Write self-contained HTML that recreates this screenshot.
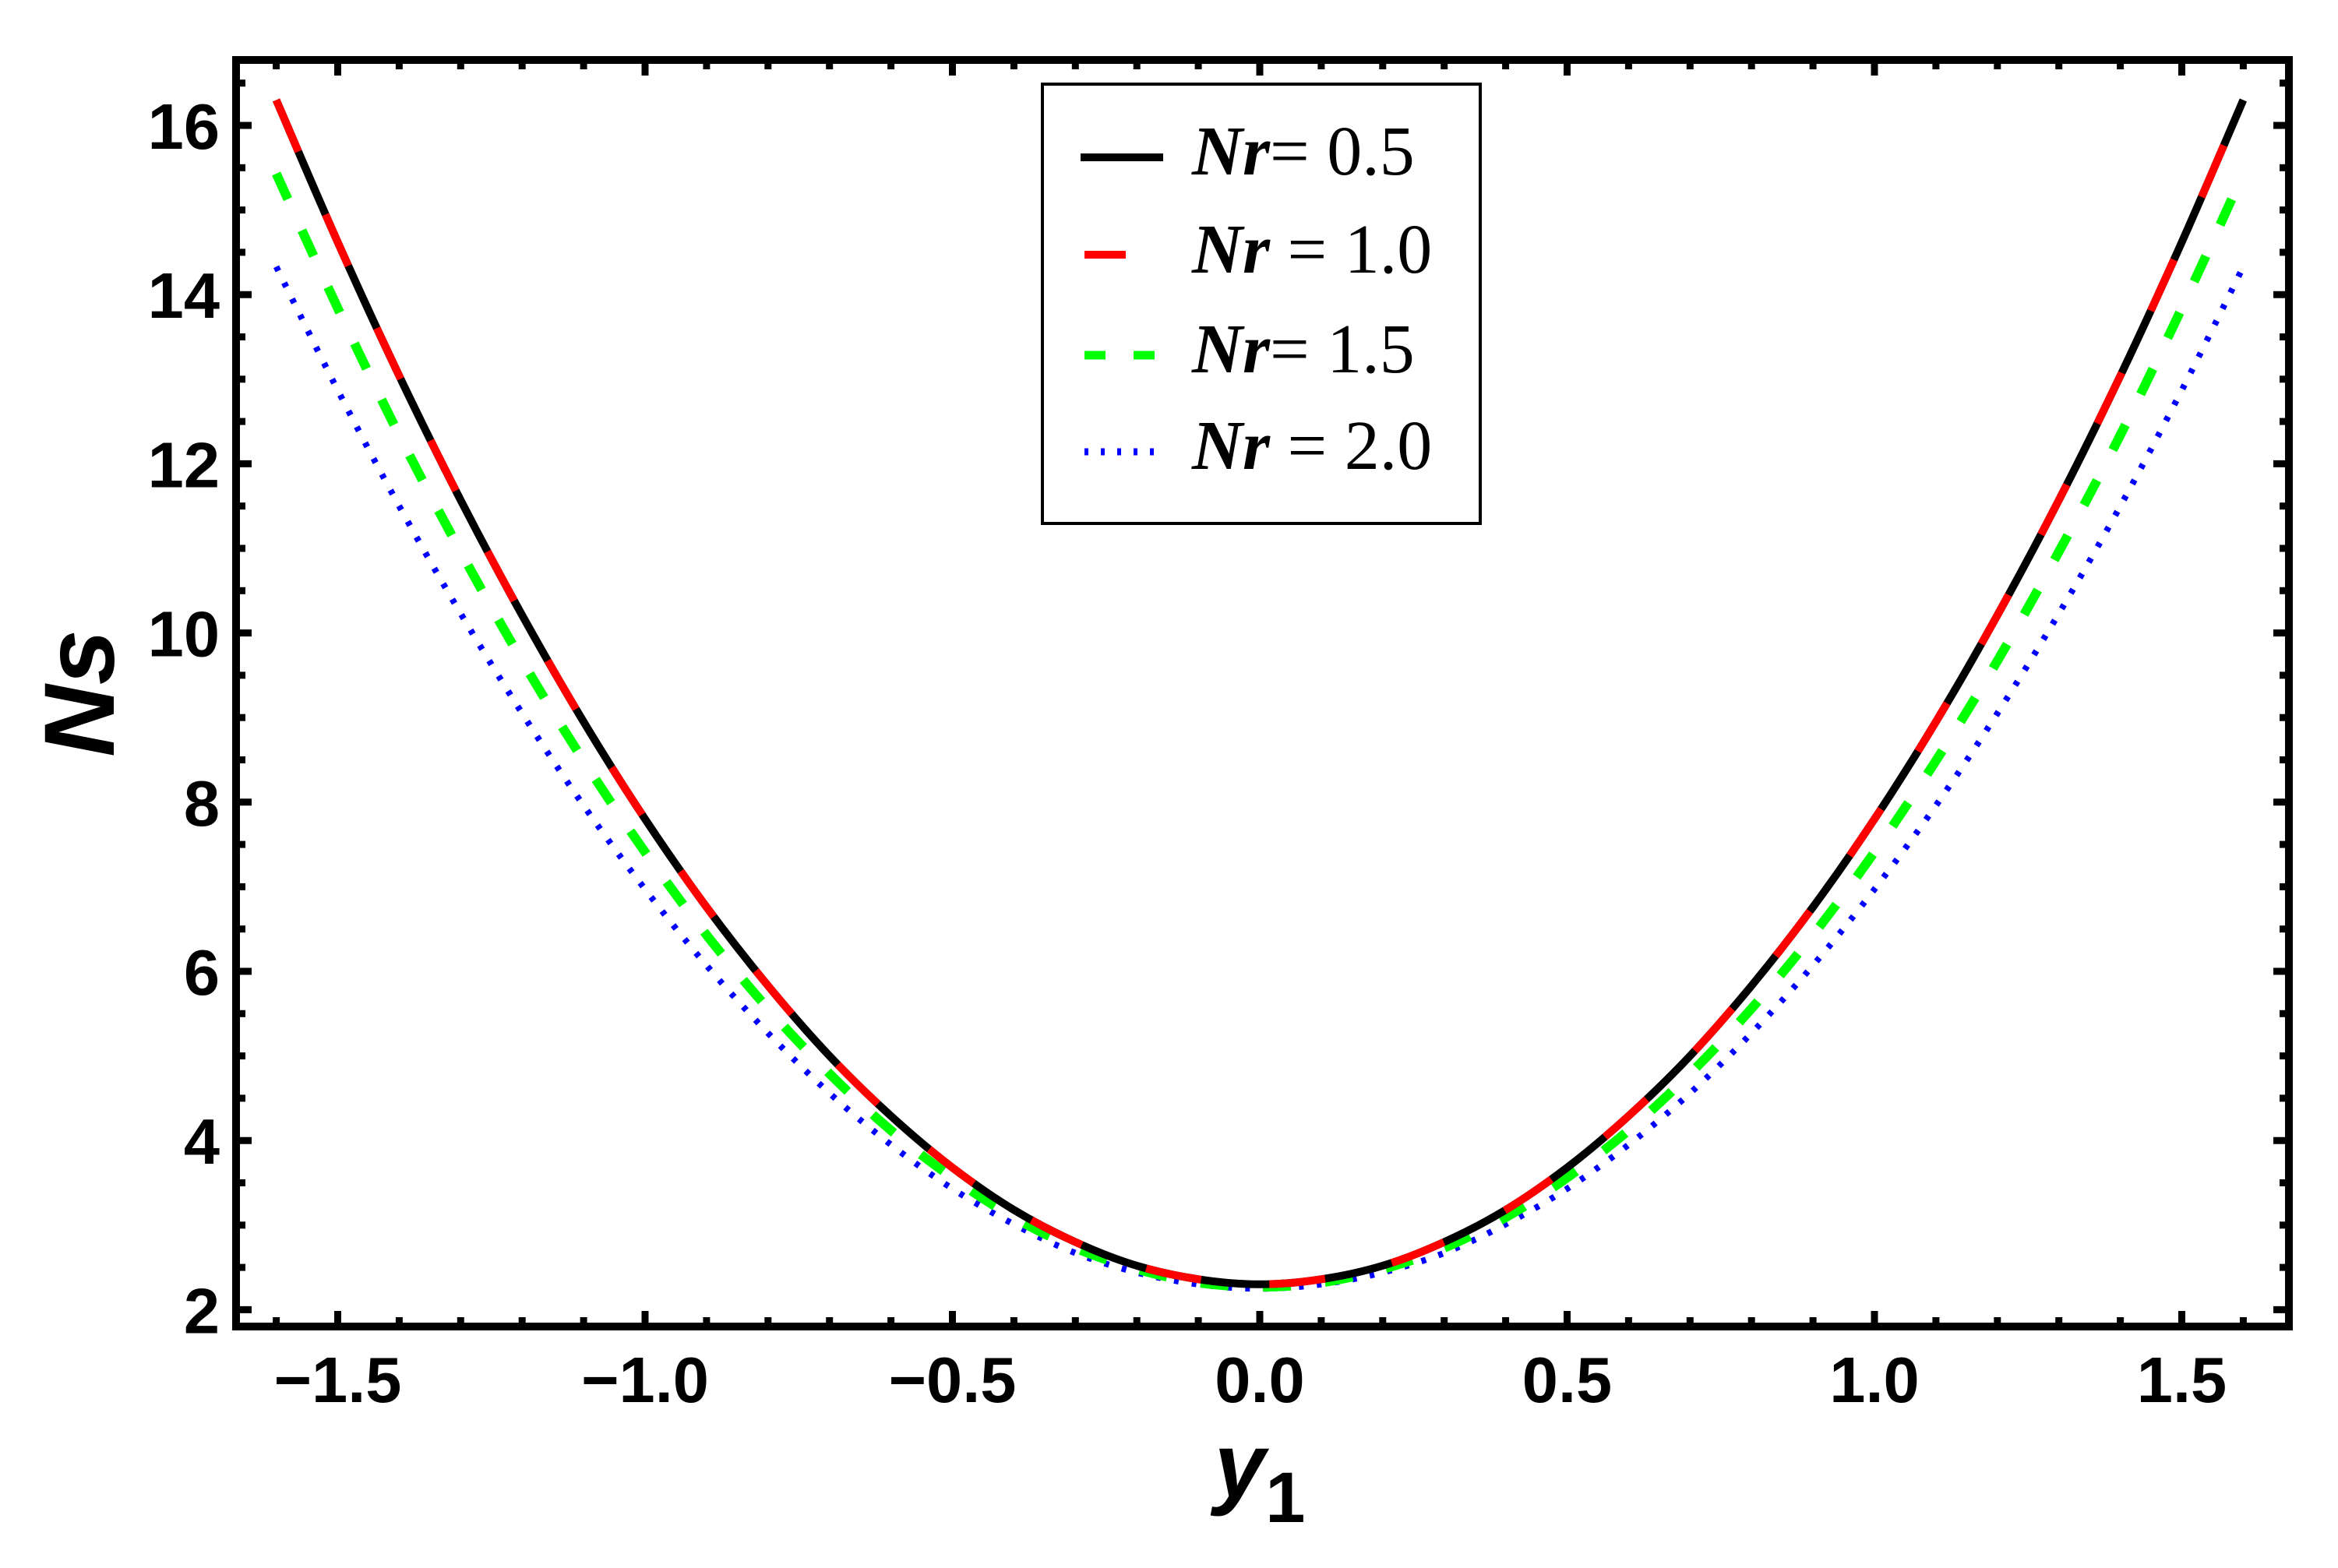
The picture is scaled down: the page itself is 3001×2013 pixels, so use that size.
<!DOCTYPE html>
<html><head><meta charset="utf-8"><style>
html,body{margin:0;padding:0;background:#fff;}
svg{display:block;}
</style></head><body>
<svg id="chart" width="3001" height="2013" viewBox="0 0 3001 2013" xmlns="http://www.w3.org/2000/svg">
<rect x="0" y="0" width="3001" height="2013" fill="#fff"/>
<g id="curves"></g>
<g id="axes"></g>
<text transform="translate(146,890) rotate(-90)" text-anchor="middle" font-family="Liberation Sans, sans-serif" font-weight="bold" font-style="italic" font-size="128">Ns</text>
<text x="1617" y="1922" text-anchor="middle" font-family="Liberation Sans, sans-serif" font-weight="bold" font-size="118"><tspan font-style="italic">y</tspan><tspan font-size="92" dy="32">1</tspan></text>
<g>
<rect x="1338" y="108" width="562" height="564" fill="#fff" stroke="#000" stroke-width="4"/>
<g>
<line x1="1387" y1="202" x2="1493" y2="202" stroke="#000" stroke-width="10"/>
<text x="1530" y="224" font-family="Liberation Serif, serif" font-size="90"><tspan font-style="italic" font-weight="bold">Nr</tspan>= 0.5</text></g>
<g>
<line x1="1392" y1="327" x2="1445" y2="327" stroke="#f00" stroke-width="10"/>
<text x="1530" y="350" font-family="Liberation Serif, serif" font-size="90"><tspan font-style="italic" font-weight="bold">Nr</tspan> = 1.0</text></g>
<g>
<line x1="1392" y1="456" x2="1482" y2="456" stroke="#0f0" stroke-width="11" stroke-dasharray="27 36"/>
<text x="1530" y="478" font-family="Liberation Serif, serif" font-size="90"><tspan font-style="italic" font-weight="bold">Nr</tspan>= 1.5</text></g>
<g>
<line x1="1392" y1="580" x2="1482" y2="580" stroke="#00f" stroke-width="9" stroke-dasharray="5 16"/>
<text x="1530" y="602" font-family="Liberation Serif, serif" font-size="90"><tspan font-style="italic" font-weight="bold">Nr</tspan> = 2.0</text></g>
</g>
</svg>
<script>
const xValues = [-1.6,-1.5,-1.4,-1.3,-1.2,-1.1,-1.0,-0.9,-0.8,-0.7,-0.6,-0.5,-0.4,-0.3,-0.2,-0.1,0,0.1,0.2,0.3,0.4,0.5,0.6,0.7,0.8,0.9,1.0,1.1,1.2,1.3,1.4,1.5,1.6];
const nr05 = [16.30,14.62,13.04,11.57,10.21,8.95,7.80,6.76,5.83,5.00,4.29,3.68,3.18,2.80,2.52,2.36,2.30,2.36,2.52,2.80,3.18,3.68,4.29,5.00,5.83,6.76,7.80,8.95,10.21,11.57,13.04,14.62,16.30];
const nr10 = [16.30,14.62,13.04,11.57,10.21,8.95,7.80,6.76,5.83,5.00,4.29,3.68,3.18,2.80,2.52,2.36,2.30,2.36,2.52,2.80,3.18,3.68,4.29,5.00,5.83,6.76,7.80,8.95,10.21,11.57,13.04,14.62,16.30];
const nr15 = [15.43,13.84,12.34,10.96,9.67,8.49,7.41,6.43,5.56,4.79,4.12,3.56,3.09,2.73,2.48,2.32,2.27,2.32,2.48,2.73,3.09,3.56,4.12,4.79,5.56,6.43,7.41,8.49,9.67,10.96,12.34,13.84,15.43];
const nr20 = [14.33,12.87,11.50,10.23,9.05,7.96,6.97,6.07,5.27,4.56,3.95,3.43,3.01,2.67,2.44,2.30,2.25,2.30,2.44,2.67,3.01,3.43,3.95,4.56,5.27,6.07,6.97,7.96,9.05,10.23,11.50,12.87,14.33];
const xTicks = [-1.5,-1.0,-0.5,0.0,0.5,1.0,1.5];
const xTickLabels = ["\u22121.5","\u22121.0","\u22120.5","0.0","0.5","1.0","1.5"];
const yTicks = [2,4,6,8,10,12,14,16];
const yTickLabels = ["2","4","6","8","10","12","14","16"];

const NS='http://www.w3.org/2000/svg';
const L=303,R=2938,T=77,B=1703;
function sx(v){return 1617+v*789;}
function sy(v){return 161+(16-v)*108.6;}
function mk(tag,attrs,parent){const e=document.createElementNS(NS,tag);for(const k in attrs)e.setAttribute(k,attrs[k]);parent.appendChild(e);return e;}
function pathFor(ys){
  const p=xValues.map((x,i)=>[sx(x),sy(ys[i])]);
  let d='M'+p[0][0].toFixed(1)+','+p[0][1].toFixed(1);
  for(let i=0;i<p.length-1;i++){
    const p0=p[Math.max(0,i-1)],p1=p[i],p2=p[i+1],p3=p[Math.min(p.length-1,i+2)];
    const c1=[p1[0]+(p2[0]-p0[0])/6,p1[1]+(p2[1]-p0[1])/6];
    const c2=[p2[0]-(p3[0]-p1[0])/6,p2[1]-(p3[1]-p1[1])/6];
    d+=' C'+c1[0].toFixed(1)+','+c1[1].toFixed(1)+' '+c2[0].toFixed(1)+','+c2[1].toFixed(1)+' '+p2[0].toFixed(1)+','+p2[1].toFixed(1);
  }
  return d;
}
const cg=document.getElementById('curves');
const series=[
 {ys:nr20,name:'curve-nr-2-0',stroke:'#00f',w:8,dash:'6 17'},
 {ys:nr15,name:'curve-nr-1-5',stroke:'#0f0',w:12,dash:'36 44'},
 {ys:nr05,name:'curve-nr-0-5',stroke:'#000',w:10,dash:''},
 {ys:nr10,name:'curve-nr-1-0',stroke:'#f00',w:10,dash:'72 88'}
];
series.forEach(s=>{
  const e=mk('path',{d:pathFor(s.ys),fill:'none',stroke:s.stroke,'stroke-width':s.w,'stroke-dasharray':s.dash},cg);
  
  
});
const ag=document.getElementById('axes');
const frame=mk('rect',{x:L,y:T,width:R-L,height:B-T,fill:'none',stroke:'#000','stroke-width':10},ag);


for(let k=-16;k<=16;k++){
  const v=k/10, X=sx(v), major=(k%5===0), len=major?20:12;
  const t1=mk('line',{x1:X,y1:B,x2:X,y2:B-len,stroke:'#000','stroke-width':9},ag);
  
  
  const t2=mk('line',{x1:X,y1:T,x2:X,y2:T+len,stroke:'#000','stroke-width':9},ag);
  
  
}
for(let k=4;k<=33;k++){
  const v=k/2, Y=sy(v), major=(k%4===0), len=major?20:12;
  const t1=mk('line',{x1:L,y1:Y,x2:L+len,y2:Y,stroke:'#000','stroke-width':9},ag);
  
  
  const t2=mk('line',{x1:R,y1:Y,x2:R-len,y2:Y,stroke:'#000','stroke-width':9},ag);
  
  
}
xTicks.forEach((v,i)=>{
  const t=mk('text',{x:sx(v),y:1800,'text-anchor':'middle','font-family':'Liberation Sans, sans-serif','font-weight':'bold','font-size':83},ag);
  t.textContent=xTickLabels[i];
  
  
});
yTicks.forEach((v,i)=>{
  const t=mk('text',{x:282,y:sy(v)+30,'text-anchor':'end','font-family':'Liberation Sans, sans-serif','font-weight':'bold','font-size':83},ag);
  t.textContent=yTickLabels[i];
  
  
});
</script>
</body></html>
